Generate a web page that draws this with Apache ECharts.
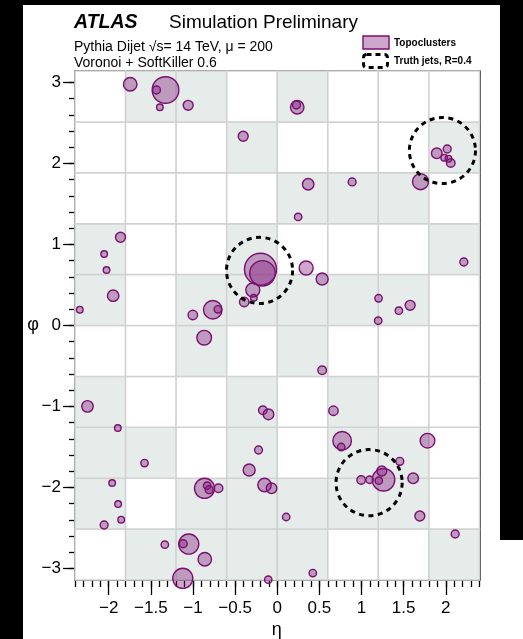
<!DOCTYPE html>
<html><head><meta charset="utf-8">
<script src="https://cdn.jsdelivr.net/npm/echarts@6/dist/echarts.min.js"></script>
<style>html,body{margin:0;padding:0;background:#fff;}#c{width:523px;height:639px;}</style>
</head><body><div id="c"></div>
<script>
// ---- Data ----
const etaEdges = [-2.4, -1.8, -1.2, -0.6, 0, 0.6, 1.2, 1.8, 2.4];
const phiEdges = [-3.1416, -2.5133, -1.8850, -1.2566, -0.6283, 0, 0.6283, 1.2566, 1.8850, 2.5133, 3.1416];
// shaded cells: [etaColumn, phiRow] (row 0 = bottom)
const shadedCells = [
  [1,9],[2,9],[4,9],
  [3,8],[7,8],
  [4,7],[5,7],[6,7],
  [0,6],[3,6],[7,6],
  [0,5],[2,5],[3,5],[4,5],[5,5],[6,5],
  [2,4],[4,4],
  [0,3],[3,3],[5,3],
  [0,2],[1,2],[3,2],[5,2],[6,2],
  [0,1],[2,1],[3,1],[4,1],[5,1],[6,1],
  [1,0],[2,0],[3,0],[4,0],[7,0]
];
// topoclusters: eta, phi, radius (eta units)
const clusterEta = [-1.745,-1.326,-1.433,-1.393,-1.057,-0.404,-1.860,-2.054,-2.026,-1.947,-2.343,-0.765,-0.705,-1.002,-0.199,-0.175,-0.290,-0.278,-0.392,
  0.237,0.228,0.367,0.248,0.889,1.700,1.893,2.017,1.981,2.032,2.059,2.214,0.343,0.533,1.202,1.443,1.577,1.198,
  -0.867,-2.252,-1.892,-0.171,-0.104,-1.575,-0.222,-0.333,-1.959,-1.888,-1.852,-2.054,-0.863,-0.832,-0.808,-0.697,-0.151,-0.068,-1.334,-1.050,-1.116,-0.860,-1.121,-0.107,
  0.533,0.667,0.770,0.759,1.783,1.454,1.261,1.241,1.205,0.996,1.095,1.613,1.692,2.111,0.106,0.422];
const clusterPhi = [2.978,2.907,2.907,2.694,2.718,2.336,1.089,0.883,0.685,0.368,0.195,0.195,0.200,0.130,0.694,0.644,0.438,0.343,0.290,
  2.694,2.722,1.743,1.340,1.772,1.775,2.126,2.179,2.072,2.059,2.006,0.784,0.710,0.574,0.336,0.183,0.249,0.059,
  -0.151,-0.998,-1.265,-1.047,-1.097,-1.698,-1.537,-1.784,-1.944,-2.204,-2.397,-2.463,-2.010,-1.978,-2.027,-2.010,-1.969,-2.010,-2.706,-2.698,-2.694,-2.886,-3.121,-3.138,
  -0.553,-1.052,-1.422,-1.500,-1.422,-1.677,-1.904,-1.796,-1.916,-1.907,-1.904,-1.887,-2.352,-2.574,-2.364,-3.056];
const clusterR = [0.080,0.158,0.047,0.039,0.059,0.059,0.059,0.039,0.039,0.068,0.039,0.110,0.044,0.056,0.190,0.151,0.083,0.039,0.056,
  0.080,0.047,0.068,0.044,0.047,0.095,0.063,0.047,0.039,0.039,0.051,0.047,0.083,0.071,0.044,0.044,0.059,0.044,
  0.087,0.068,0.039,0.051,0.063,0.044,0.047,0.071,0.039,0.039,0.039,0.047,0.119,0.044,0.047,0.051,0.080,0.063,0.044,0.119,0.047,0.080,0.119,0.044,
  0.051,0.056,0.110,0.044,0.087,0.047,0.134,0.059,0.044,0.051,0.044,0.063,0.059,0.047,0.044,0.044];
// truth jets
const jetEta = [-0.21, 1.96, 1.09];
const jetPhi = [0.68, 2.16, -1.94];
const jetR = 0.4;
// tick labels
const etaMajor = [-2, -1.5, -1, -0.5, 0, 0.5, 1, 1.5, 2];
const phiMajor = [-3, -2, -1, 0, 1, 2, 3];

// ---- build ----
const etaMinor = []; for (let i = -24; i <= 24; i++) etaMinor.push(i / 10);
const phiMinor = []; for (let i = -15; i <= 15; i++) phiMinor.push(i / 5);
const cellData = [];
for (let c = 0; c < etaEdges.length - 1; c++) for (let r = 0; r < phiEdges.length - 1; r++) {
  const sh = shadedCells.some(s => s[0] === c && s[1] === r) ? 1 : 0;
  cellData.push([etaEdges[c], etaEdges[c+1], phiEdges[r], phiEdges[r+1], sh]);
}
const clusters = clusterEta.map((e, i) => [e, clusterPhi[i], clusterR[i]]);
const jets = jetEta.map((e, i) => [e, jetPhi[i], jetR]);

const FONT = "'Liberation Sans', Arial, Helvetica, sans-serif";
const minus = v => String(v).replace('-', '\u2212');
const black = '#000';
const purpleFill = 'rgba(128,20,120,0.38)';
const purpleStroke = '#7a0f70';
const gridRect = {left: 75, right: 43.5, top: 71, bottom: 59};

function xAx(gi, pos, vals, len, inside, labels, line) {
  return {type: 'value', gridIndex: gi, position: pos, min: -2.4, max: 2.4,
    axisLine: {show: line, onZero: false, lineStyle: {color: black, width: 1.5}},
    axisTick: {show: true, inside: inside, length: len, customValues: vals, lineStyle: {color: black, width: 1.3}},
    axisLabel: labels ? {show: true, customValues: etaMajor, formatter: minus, margin: 20, color: black, fontSize: 17, fontFamily: FONT} : {show: false},
    splitLine: {show: false}};
}
function yAx(gi, pos, vals, len, inside, labels, line) {
  return {type: 'value', gridIndex: gi, position: pos, min: -3.1416, max: 3.1416,
    axisLine: {show: line, onZero: false, lineStyle: {color: black, width: 1.5}},
    axisTick: {show: true, inside: inside, length: len, customValues: vals, lineStyle: {color: black, width: 1.3}},
    axisLabel: labels ? {show: true, customValues: phiMajor, formatter: minus, margin: 14, color: black, fontSize: 17, fontFamily: FONT} : {show: false},
    splitLine: {show: false}};
}

const chart = echarts.init(document.getElementById('c'), null, {renderer: 'canvas'});
chart.setOption({
  animation: false,
  backgroundColor: '#fff',
  grid: [Object.assign({}, gridRect), Object.assign({}, gridRect)],
  xAxis: [
    xAx(0, 'bottom', etaMajor, 15, false, true, true),
    xAx(0, 'top', etaMajor, 14, true, false, true),
    xAx(1, 'bottom', etaMinor, 7, false, false, false),
    xAx(1, 'top', etaMinor, 6, true, false, false)
  ],
  yAxis: [
    yAx(0, 'left', phiMajor, 12, false, true, true),
    yAx(0, 'right', phiMajor, 12, true, false, true),
    yAx(1, 'left', phiMinor, 6, false, false, false),
    yAx(1, 'right', phiMinor, 6, true, false, false)
  ],
  series: [
    {type: 'custom', xAxisIndex: 0, yAxisIndex: 0, z: 1, silent: true,
      data: cellData,
      renderItem: (params, api) => {
        const p0 = api.coord([api.value(0), api.value(3)]);
        const p1 = api.coord([api.value(1), api.value(2)]);
        return {type: 'rect', shape: {x: p0[0], y: p0[1], width: p1[0]-p0[0], height: p1[1]-p0[1]},
          style: {fill: api.value(4) ? '#e5ecea' : '#ffffff', stroke: '#d2d2d2', lineWidth: 1.5}};
      }},
    {type: 'custom', xAxisIndex: 0, yAxisIndex: 0, z: 5, silent: true,
      data: clusters,
      renderItem: (params, api) => {
        const c = api.coord([api.value(0), api.value(1)]);
        const r = api.size([api.value(2), 0])[0];
        return {type: 'circle', shape: {cx: c[0], cy: c[1], r: r},
          style: {fill: purpleFill, stroke: purpleStroke, lineWidth: 1.4}};
      }},
    {type: 'custom', xAxisIndex: 0, yAxisIndex: 0, z: 6, silent: true,
      data: jets,
      renderItem: (params, api) => {
        const c = api.coord([api.value(0), api.value(1)]);
        const s = api.size([api.value(2), api.value(2)]);
        return {type: 'circle', shape: {cx: c[0], cy: c[1], r: (s[0] + s[1]) / 2},
          style: {fill: 'none', stroke: black, lineWidth: 3, lineDash: [5, 4.5]}};
      }}
  ],
  graphic: [
    {type: 'rect', shape: {x: 0, y: 0, width: 23, height: 639}, style: {fill: '#000'}, z: 100},
    {type: 'rect', shape: {x: 0, y: 0, width: 523, height: 5}, style: {fill: '#000'}, z: 100},
    {type: 'rect', shape: {x: 500, y: 0, width: 23, height: 540}, style: {fill: '#000'}, z: 100},
    {type: 'text', x: 74, y: 23, style: {text: 'ATLAS', font: 'italic bold 19.5px ' + FONT, fill: black, textVerticalAlign: 'middle', verticalAlign: 'middle'}},
    {type: 'text', x: 169, y: 23, style: {text: 'Simulation Preliminary', font: '19px ' + FONT, fill: black, textVerticalAlign: 'middle', verticalAlign: 'middle'}},
    {type: 'text', x: 74, y: 47, style: {text: 'Pythia Dijet \u221As= 14 TeV, \u03BC = 200', font: '14px ' + FONT, fill: black, textVerticalAlign: 'middle', verticalAlign: 'middle'}},
    {type: 'text', x: 74, y: 63, style: {text: 'Voronoi + SoftKiller 0.6', font: '14px ' + FONT, fill: black, textVerticalAlign: 'middle', verticalAlign: 'middle'}},
    {type: 'rect', shape: {x: 363, y: 36, width: 26, height: 13}, style: {fill: purpleFill, stroke: purpleStroke, lineWidth: 1.4}},
    {type: 'text', x: 394, y: 43, style: {text: 'Topoclusters', font: 'bold 10px ' + FONT, fill: black, textVerticalAlign: 'middle', verticalAlign: 'middle'}},
    {type: 'rect', shape: {x: 363.5, y: 54.5, width: 24, height: 13, r: 3}, style: {fill: 'none', stroke: black, lineWidth: 3, lineDash: [5, 4]}},
    {type: 'text', x: 394, y: 61, style: {text: 'Truth jets, R=0.4', font: 'bold 10px ' + FONT, fill: black, textVerticalAlign: 'middle', verticalAlign: 'middle'}},
    {type: 'text', x: 276.7, y: 630, style: {text: '\u03B7', font: '18px ' + FONT, fill: black, textAlign: 'center', align: 'center', textVerticalAlign: 'middle', verticalAlign: 'middle'}},
    {type: 'text', x: 33, y: 325, style: {text: '\u03C6', font: '18px ' + FONT, fill: black, textAlign: 'center', align: 'center', textVerticalAlign: 'middle', verticalAlign: 'middle'}}
  ]
});
</script></body></html>
